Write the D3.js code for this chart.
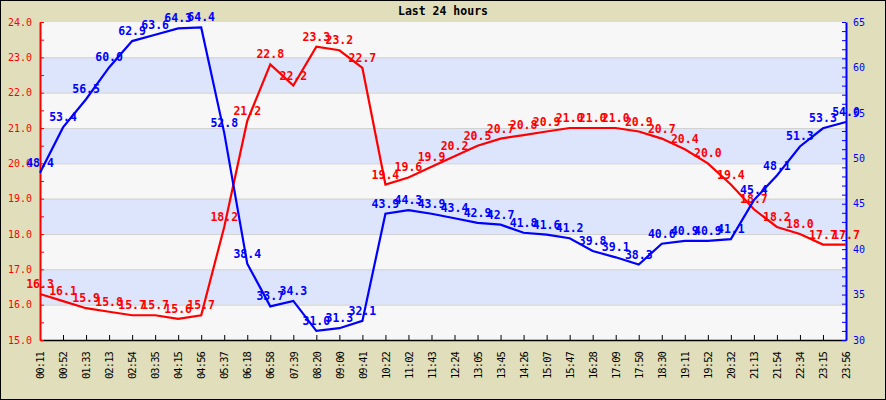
<!DOCTYPE html>
<html lang="en">
<head>
  <meta charset="UTF-8">
  <title>Last 24 hours</title>
  <script src="https://d3js.org/d3.v7.min.js"></script>
  <style>
    body { margin: 0; }
    svg text { font-family: "DejaVu Sans Mono", monospace; }
  </style>
</head>
<body>
  <svg id="chart" width="886" height="400"></svg>

  <script>
    const times = ['00:11', '00:52', '01:33', '02:13', '02:54', '03:35', '04:15', '04:56',
      '05:37', '06:18', '06:58', '07:39', '08:20', '09:00', '09:41', '10:22', '11:02',
      '11:43', '12:24', '13:05', '13:45', '14:26', '15:07', '15:47', '16:28', '17:09',
      '17:50', '18:30', '19:11', '19:52', '20:32', '21:13', '21:54', '22:34', '23:15', '23:56'];

    const temperature = [16.3, 16.1, 15.9, 15.8, 15.7, 15.7, 15.6, 15.7, 18.2, 21.2, 22.8, 22.2,
      23.3, 23.2, 22.7, 19.4, 19.6, 19.9, 20.2, 20.5, 20.7, 20.8, 20.9, 21.0, 21.0, 21.0,
      20.9, 20.7, 20.4, 20.0, 19.4, 18.7, 18.2, 18.0, 17.7, 17.7];

    const humidity = [48.4, 53.4, 56.5, 60.0, 62.9, 63.6, 64.3, 64.4, 52.8, 38.4, 33.7, 34.3,
      31.0, 31.3, 32.1, 43.9, 44.3, 43.9, 43.4, 42.9, 42.7, 41.8, 41.6, 41.2, 39.8, 39.1,
      38.3, 40.6, 40.9, 40.9, 41.1, 45.4, 48.1, 51.3, 53.3, 54.0];

    const tempDomain = [15, 24];
    const humDomain = [30, 65];

    const W = 886, H = 400;
    const m = { left: 40, right: 846, top: 22, bottom: 340 };

    const svg = d3.select('#chart');

    // frame
    svg.append('rect')
      .attr('x', 0.5).attr('y', 0.5)
      .attr('width', W - 1).attr('height', H - 1)
      .attr('fill', '#e1dfbb')
      .attr('stroke', '#000');

    svg.append('text')
      .attr('x', W / 2).attr('y', 15)
      .attr('text-anchor', 'middle')
      .attr('font-size', '11.5px')
      .attr('font-weight', 'bold')
      .text('Last 24 hours');

    const x = d3.scalePoint().domain(times).range([m.left, m.right]);
    const yT = d3.scaleLinear().domain(tempDomain).range([m.bottom, m.top]);
    const yH = d3.scaleLinear().domain(humDomain).range([m.bottom, m.top]);

    // stripes
    const bands = d3.range(tempDomain[0], tempDomain[1]);
    svg.append('g').selectAll('rect')
      .data(bands)
      .enter().append('rect')
      .attr('x', m.left)
      .attr('width', m.right - m.left)
      .attr('y', d => yT(d + 1))
      .attr('height', d => yT(d) - yT(d + 1))
      .attr('fill', (d, i) => i % 2 === 0 ? '#f7f7f7' : '#dde5fc');

    svg.append('g').selectAll('line')
      .data(bands.slice(1))
      .enter().append('line')
      .attr('x1', m.left).attr('x2', m.right)
      .attr('y1', d => yT(d) + 0.5).attr('y2', d => yT(d) + 0.5)
      .attr('stroke', '#d2d2d2');

    // bottom axis
    const xAxis = svg.append('g')
      .attr('transform', `translate(0,${m.bottom})`)
      .call(d3.axisBottom(x).tickSize(-5).tickSizeOuter(0));
    xAxis.select('.domain').attr('stroke', '#000').attr('stroke-width', 1.5);
    xAxis.selectAll('.tick line').attr('stroke', '#000');
    xAxis.selectAll('.tick text')
      .attr('font-size', '10.5px')
      .attr('letter-spacing', '-0.9px')
      .attr('font-family', '"DejaVu Sans Mono", monospace')
      .attr('fill', '#000')
      .attr('text-anchor', 'end')
      .attr('x', 0).attr('y', 0).attr('dy', '0.35em')
      .attr('transform', 'translate(0,12) rotate(-90)');

    // left axis, temperature
    const yAxisL = svg.append('g')
      .attr('transform', `translate(${m.left},0)`)
      .call(d3.axisLeft(yT)
        .tickValues(d3.range(15, 24.01, 0.5))
        .tickSize(-4).tickSizeOuter(0).tickPadding(8)
        .tickFormat(d => d % 1 === 0 ? d.toFixed(1) : ''));
    yAxisL.select('.domain').attr('stroke', '#f00').attr('stroke-width', 2);
    yAxisL.selectAll('.tick line').attr('stroke', '#f00');
    yAxisL.selectAll('.tick text')
      .attr('fill', '#f00')
      .attr('font-size', '10px')
      .attr('font-family', '"DejaVu Sans Mono", monospace');

    // right axis, humidity
    const yAxisR = svg.append('g')
      .attr('transform', `translate(${m.right},0)`)
      .call(d3.axisRight(yH)
        .tickValues(d3.range(30, 66))
        .tickSize(-4).tickSizeOuter(0).tickPadding(7)
        .tickFormat(d => d % 5 === 0 ? d : ''));
    yAxisR.select('.domain').attr('stroke', '#00f').attr('stroke-width', 2);
    yAxisR.selectAll('.tick line').attr('stroke', '#00f');
    yAxisR.selectAll('.tick text')
      .attr('fill', '#00f')
      .attr('font-size', '10px')
      .attr('font-family', '"DejaVu Sans Mono", monospace');

    function drawSeries(values, y, color) {
      const line = d3.line()
        .x((d, i) => x(times[i]))
        .y(d => y(d));

      svg.append('path')
        .datum(values)
        .attr('fill', 'none')
        .attr('stroke', color)
        .attr('stroke-width', 2.2)
        .attr('d', line);

      svg.append('g').selectAll('text')
        .data(values)
        .enter().append('text')
        .attr('x', (d, i) => x(times[i]))
        .attr('y', d => y(d) - 6)
        .attr('text-anchor', 'middle')
        .attr('font-size', '11.5px')
        .attr('font-weight', 'bold')
        .attr('fill', color)
        .text(d => d.toFixed(1));
    }

    drawSeries(temperature, yT, '#f00');
    drawSeries(humidity, yH, '#00f');
  </script>
</body>
</html>
